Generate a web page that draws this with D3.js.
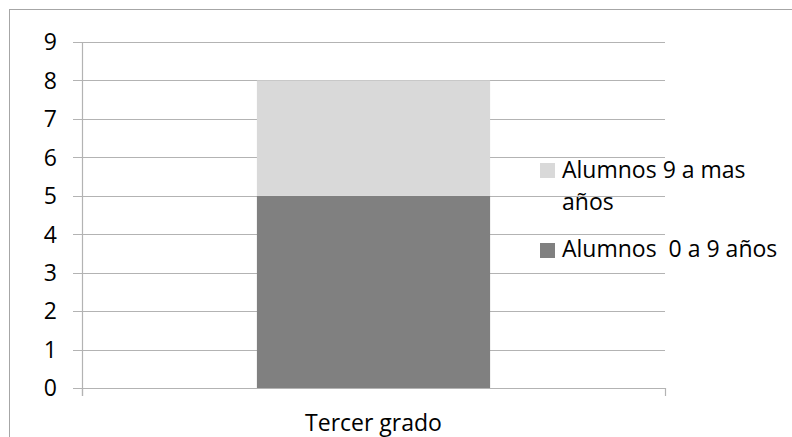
<!DOCTYPE html>
<html>
<head>
<meta charset="utf-8">
<script src="https://cdn.jsdelivr.net/npm/d3@7"></script>
<style>
  html, body { margin: 0; padding: 0; background: #fff; }
  svg text { font-family: "Open Sans", sans-serif; font-size: 23px; fill: #000; }
</style>
</head>
<body>
<svg id="chart" width="792" height="437"></svg>
<script>
// data
const categories = ['Tercer grado'];
const seriesNames = ['Alumnos  0 a 9 años', 'Alumnos 9 a mas años'];
const youngValues = [5];
const olderValues = [3];
const yTicks = [0, 1, 2, 3, 4, 5, 6, 7, 8, 9];
const colors = ['#808080', '#d9d9d9'];

const svg = d3.select('#chart');
const gridColor = '#b3b3b3';

// outer chart frame (runs off the right and bottom edge)
svg.append('rect')
   .attr('x', 9.5).attr('y', 9.5)
   .attr('width', 800).attr('height', 450)
   .attr('fill', 'none')
   .attr('stroke', '#a6a6a6')
   .attr('stroke-width', 1);

const yScale = d3.scaleLinear().domain([0, 9]).range([388, 42]);
const xScale = d3.scaleBand().domain(categories).range([82, 665])
                 .paddingInner(0.6).paddingOuter(0.3);

// gridlines + left ticks
svg.append('g')
   .selectAll('line')
   .data(yTicks)
   .enter()
   .append('line')
     .attr('x1', 73).attr('x2', 665)
     .attr('y1', d => Math.round(yScale(d)) + 0.5)
     .attr('y2', d => Math.round(yScale(d)) + 0.5)
     .attr('stroke', gridColor)
     .attr('stroke-width', 1.2);

// stacked bars
const table = categories.map((c, i) => ({ cat: c, young: youngValues[i], older: olderValues[i] }));
const stacked = d3.stack().keys(['young', 'older'])(table);

svg.append('g')
   .selectAll('g')
   .data(stacked)
   .enter()
   .append('g')
     .attr('fill', (d, i) => colors[i])
   .selectAll('rect')
   .data(d => d)
   .enter()
   .append('rect')
     .attr('x', d => xScale(d.data.cat))
     .attr('width', xScale.bandwidth())
     .attr('y', d => yScale(d[1]))
     .attr('height', d => yScale(d[0]) - yScale(d[1]));

// y axis line
svg.append('line')
   .attr('x1', 82.5).attr('x2', 82.5)
   .attr('y1', yScale(9)).attr('y2', 396)
   .attr('stroke', gridColor).attr('stroke-width', 1.2);

// x axis line with category edge ticks
svg.append('line')
   .attr('x1', 73).attr('x2', 665)
   .attr('y1', 388.5).attr('y2', 388.5)
   .attr('stroke', gridColor).attr('stroke-width', 1.2);

const edges = [xScale.range()[0], xScale.range()[1]];
svg.append('g')
   .selectAll('line')
   .data(edges)
   .enter()
   .append('line')
     .attr('x1', d => d + 0.5).attr('x2', d => d + 0.5)
     .attr('y1', 388).attr('y2', 396)
     .attr('stroke', gridColor).attr('stroke-width', 1.2);

// y tick labels
svg.append('g')
   .selectAll('text')
   .data(yTicks)
   .enter()
   .append('text')
     .attr('x', 57)
     .attr('y', d => yScale(d))
     .attr('dy', '0.36em')
     .attr('text-anchor', 'end')
     .text(d => d);

// category label
svg.append('g')
   .selectAll('text')
   .data(categories)
   .enter()
   .append('text')
     .attr('x', d => xScale(d) + xScale.bandwidth() / 2)
     .attr('y', 431)
     .attr('text-anchor', 'middle')
     .text(d => d);

// legend (top entry is the upper series, wraps onto two lines)
const legend = svg.append('g');

legend.append('rect')
   .attr('x', 540).attr('y', 163).attr('width', 15).attr('height', 15)
   .attr('fill', colors[1]);
const t1 = legend.append('text').attr('x', 562).attr('y', 178);
t1.append('tspan').attr('x', 562).text('Alumnos 9 a mas');
t1.append('tspan').attr('x', 562).attr('dy', 32).text('años');

legend.append('rect')
   .attr('x', 540).attr('y', 243).attr('width', 15).attr('height', 15)
   .attr('fill', colors[0]);
legend.append('text')
   .attr('x', 562).attr('y', 257)
   .attr('xml:space', 'preserve')
   .style('white-space', 'pre')
   .text(seriesNames[0]);
</script>
</body>
</html>
